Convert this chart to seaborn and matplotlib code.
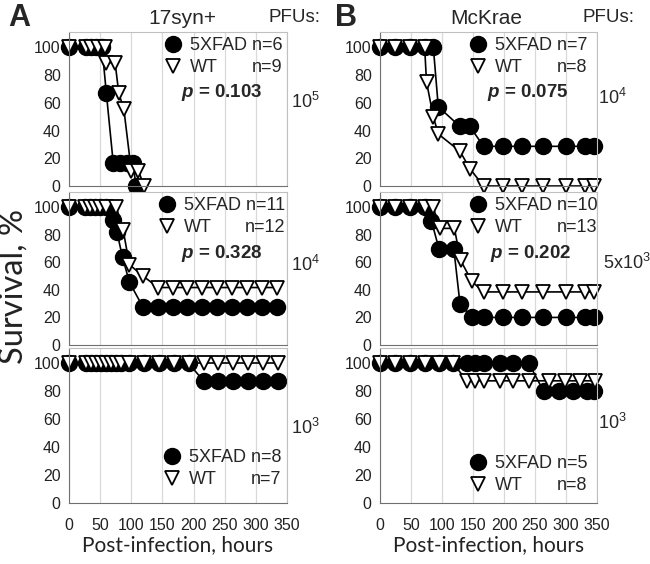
import matplotlib
matplotlib.use('Agg')
import matplotlib.pyplot as plt
import seaborn as sns
from matplotlib.lines import Line2D

# ---- data (hours, survival %) ----
# A, 17syn+, 10^5
a1_t_fad = [0, 28, 36, 44, 53, 60, 71, 82, 93, 102, 108]
a1_s_fad = [100, 100, 100, 100, 100, 66.7, 16.7, 16.7, 16.7, 16.7, 0]
a1_t_wt = [0, 28, 36, 46, 57, 60, 74, 80, 88, 100, 111, 121]
a1_s_wt = [100, 100, 100, 100, 100, 88.9, 88.9, 66.7, 55.6, 11.1, 11.1, 0]
# A, 17syn+, 10^4
a2_t_fad = [0, 26, 34, 42, 50, 60, 70, 77, 86, 97, 119, 143, 167, 190, 214, 238, 262, 286, 310, 334]
a2_s_fad = [100, 100, 100, 100, 100, 100, 90.9, 81.8, 63.6, 45.5,
            27.3, 27.3, 27.3, 27.3, 27.3, 27.3, 27.3, 27.3, 27.3, 27.3]
a2_t_wt = [0, 26, 34, 42, 50, 60, 76, 87, 97, 119, 143, 167, 190, 214, 238, 262, 286, 310, 334]
a2_s_wt = [100, 100, 100, 100, 100, 100, 100, 83.3, 58.3, 50.0,
           41.7, 41.7, 41.7, 41.7, 41.7, 41.7, 41.7, 41.7, 41.7]
# A, 17syn+, 10^3
a3_t = [0, 28, 36, 44, 52, 60, 68, 76, 84, 96, 120, 144, 168, 192, 216, 240, 264, 288, 312, 336]
a3_s_fad = [100, 100, 100, 100, 100, 100, 100, 100, 100, 100, 100, 100, 100, 100,
            87.5, 87.5, 87.5, 87.5, 87.5, 87.5]
a3_s_wt = [100, 100, 100, 100, 100, 100, 100, 100, 100, 100,
           100, 100, 100, 100, 100, 100, 100, 100, 100, 100]
# B, McKrae, 10^4
b1_t_fad = [0, 24, 48, 73, 86, 94, 129, 145, 167, 198, 229, 263, 300, 331, 345]
b1_s_fad = [100, 100, 100, 100, 100, 57.1, 42.9, 42.9, 28.6, 28.6, 28.6, 28.6, 28.6, 28.6, 28.6]
b1_t_wt = [0, 24, 48, 72, 75, 86, 94, 129, 145, 167, 198, 229, 263, 300, 331, 345]
b1_s_wt = [100, 100, 100, 100, 75, 50, 37.5, 25, 12.5, 0, 0, 0, 0, 0, 0, 0]
# B, McKrae, 5x10^3
b2_t_fad = [0, 24, 48, 73, 83, 95, 119, 129, 148, 167, 198, 229, 263, 300, 331, 345]
b2_s_fad = [100, 100, 100, 100, 90, 70, 70, 30, 20, 20, 20, 20, 20, 20, 20, 20]
b2_t_wt = [0, 24, 48, 73, 86, 96, 120, 130, 148, 167, 198, 229, 263, 300, 331, 345]
b2_s_wt = [100, 100, 100, 100, 100, 84.6, 84.6, 61.5, 46.2, 38.5, 38.5, 38.5, 38.5, 38.5, 38.5, 38.5]
# B, McKrae, 10^3
b3_t_fad = [0, 24, 48, 73, 95, 118, 140, 153, 167, 193, 215, 240, 264, 288, 311, 334, 345]
b3_s_fad = [100, 100, 100, 100, 100, 100, 100, 100, 100, 100, 100, 100, 80, 80, 80, 80, 80]
b3_t_wt = [0, 24, 48, 73, 95, 118, 140, 153, 167, 193, 215, 240, 272, 298, 323, 346]
b3_s_wt = [100, 100, 100, 100, 100, 100, 87.5, 87.5, 87.5, 87.5, 87.5, 87.5, 87.5, 87.5, 87.5, 87.5]

x_ticks = [0, 50, 100, 150, 200, 250, 300, 350]
y_ticks = [0, 20, 40, 60, 80, 100]

sns.set_style('white')
plt.rcParams['font.family'] = ['Liberation Sans', 'DejaVu Sans']
plt.rcParams['mathtext.fontset'] = 'custom'
plt.rcParams['mathtext.rm'] = 'Liberation Sans'
plt.rcParams['mathtext.it'] = 'Liberation Sans:italic'
plt.rcParams['mathtext.bf'] = 'Liberation Sans:bold'
plt.rcParams['mathtext.bfit'] = 'Liberation Sans:italic:bold'

W, H = 650, 564
fig = plt.figure(figsize=(W / 100, H / 100), dpi=100)


def px_axes(x0, x1, y0, y1):
    return fig.add_axes([x0 / W, 1 - y1 / H, (x1 - x0) / W, (y1 - y0) / H])


MS_O = 11.5   # circle size
MS_V = 10.5   # triangle size


def draw_panel(ax, t_fad, s_fad, t_wt, s_wt, bottom):
    sns.lineplot(x=t_fad, y=s_fad, ax=ax, estimator=None, sort=False, color='black',
                 lw=1.2, marker='o', ms=MS_O, mfc='black', mec='black', mew=1.0, clip_on=False)
    sns.lineplot(x=t_wt, y=s_wt, ax=ax, estimator=None, sort=False, color='black',
                 lw=1.2, marker='v', ms=MS_V, mfc='white', mec='black', mew=1.3, clip_on=False)
    ax.set_xlim(0, 350)
    ax.set_ylim(0, 111)
    ax.set_xticks(x_ticks)
    ax.set_yticks(y_ticks)
    ax.grid(axis='x', color='#d9d9d9', lw=0.9)
    ax.grid(axis='y', visible=False)
    for s in ['top', 'right']:
        ax.spines[s].set_color('#c0c0c0')
    for s in ['left', 'bottom']:
        ax.spines[s].set_color('#707070')
    ax.tick_params(axis='y', length=0, labelsize=11.5, pad=6, labelcolor='#222222')
    if bottom:
        ax.tick_params(axis='x', length=5, width=1.6, color='black', direction='out',
                       labelsize=11.5, pad=6, labelcolor='#222222')
        ax.set_xlabel('Post-infection, hours', family=['Lato', 'DejaVu Sans'],
                      fontsize=15, labelpad=1, color='#222222')
    else:
        ax.tick_params(axis='x', length=0, labelbottom=False)


def add_legend(ax, n_fad, n_wt, lx, ly, p=None, px=None, py=None):
    h_fad = Line2D([], [], marker='o', ls='none', mfc='black', mec='black', ms=MS_O)
    h_wt = Line2D([], [], marker='v', ls='none', mfc='white', mec='black', ms=MS_V, mew=1.3)
    leg = ax.legend([h_fad, h_wt], ['5XFAD n=' + str(n_fad), 'WT'], loc='upper left',
                    bbox_to_anchor=(lx, ly), frameon=False, fontsize=13, handlelength=1.0,
                    handletextpad=0.45, labelspacing=0.3, borderpad=0, borderaxespad=0)
    fig.canvas.draw()
    t1, t2 = leg.get_texts()
    inv = ax.transAxes.inverted()
    b1 = inv.transform(t1.get_window_extent().get_points())
    b2 = inv.transform(t2.get_window_extent().get_points())
    ax.text(b1[1, 0], b2[0, 1], 'n=' + str(n_wt), ha='right', va='bottom', fontsize=13,
            transform=ax.transAxes)
    if p is not None:
        ax.text(px, py, r'$\mathbfit{p}$ = ' + p, fontweight='bold', fontsize=13.5,
                ha='left', va='center', transform=ax.transAxes)


axA1 = px_axes(69, 287, 32, 186)
axA2 = px_axes(69, 287, 192, 345)
axA3 = px_axes(69, 287, 348, 503)
axB1 = px_axes(380, 597, 32, 186)
axB2 = px_axes(380, 597, 192, 345)
axB3 = px_axes(380, 597, 348, 503)

draw_panel(axA1, a1_t_fad, a1_s_fad, a1_t_wt, a1_s_wt, False)
draw_panel(axA2, a2_t_fad, a2_s_fad, a2_t_wt, a2_s_wt, False)
draw_panel(axA3, a3_t, a3_s_fad, a3_t, a3_s_wt, True)
draw_panel(axB1, b1_t_fad, b1_s_fad, b1_t_wt, b1_s_wt, False)
draw_panel(axB2, b2_t_fad, b2_s_fad, b2_t_wt, b2_s_wt, False)
draw_panel(axB3, b3_t_fad, b3_s_fad, b3_t_wt, b3_s_wt, True)

add_legend(axA1, 6, 9, 0.436, 0.968, '0.103', 0.514, 0.61)
add_legend(axA2, 11, 12, 0.408, 0.967, '0.328', 0.514, 0.60)
add_legend(axA3, 8, 7, 0.431, 0.348)
add_legend(axB1, 7, 8, 0.41, 0.968, '0.075', 0.493, 0.61)
add_legend(axB2, 10, 13, 0.41, 0.967, '0.202', 0.507, 0.60)
add_legend(axB3, 5, 8, 0.41, 0.31)

# panel letters, titles, PFU labels
fig.text(19 / W, 1 - 18 / H, 'A', fontsize=22, fontweight='bold', ha='center', va='center')
fig.text(346 / W, 1 - 18 / H, 'B', fontsize=22, fontweight='bold', ha='center', va='center')
fig.text(182 / W, 1 - 18 / H, '17syn+', fontsize=15, ha='center', va='center')
fig.text(486 / W, 1 - 18 / H, 'McKrae', fontsize=15, ha='center', va='center')
fig.text(294 / W, 1 - 18 / H, 'PFUs:', fontsize=13.5, ha='center', va='center')
fig.text(609 / W, 1 - 18 / H, 'PFUs:', fontsize=13.5, ha='center', va='center')

pfu_a = [(r'10$^{\mathregular{5}}$', 102), (r'10$^{\mathregular{4}}$', 265), (r'10$^{\mathregular{3}}$', 428)]
pfu_b = [(r'10$^{\mathregular{4}}$', 98), (r'5x10$^{\mathregular{3}}$', 263), (r'10$^{\mathregular{3}}$', 423)]
for lab, y in pfu_a:
    fig.text(291 / W, 1 - y / H, lab, fontsize=13, ha='left', va='center')
for lab, y in pfu_b:
    fig.text((603 if lab.startswith('5') else 598) / W, 1 - y / H, lab, fontsize=13,
             ha='left', va='center')

fig.text(14 / W, 1 - 287 / H, 'Survival, %', family=['Lato', 'DejaVu Sans'], fontsize=23.5,
         rotation=90, ha='center', va='center', color='#222222')

fig.savefig('out.png', dpi=100)
